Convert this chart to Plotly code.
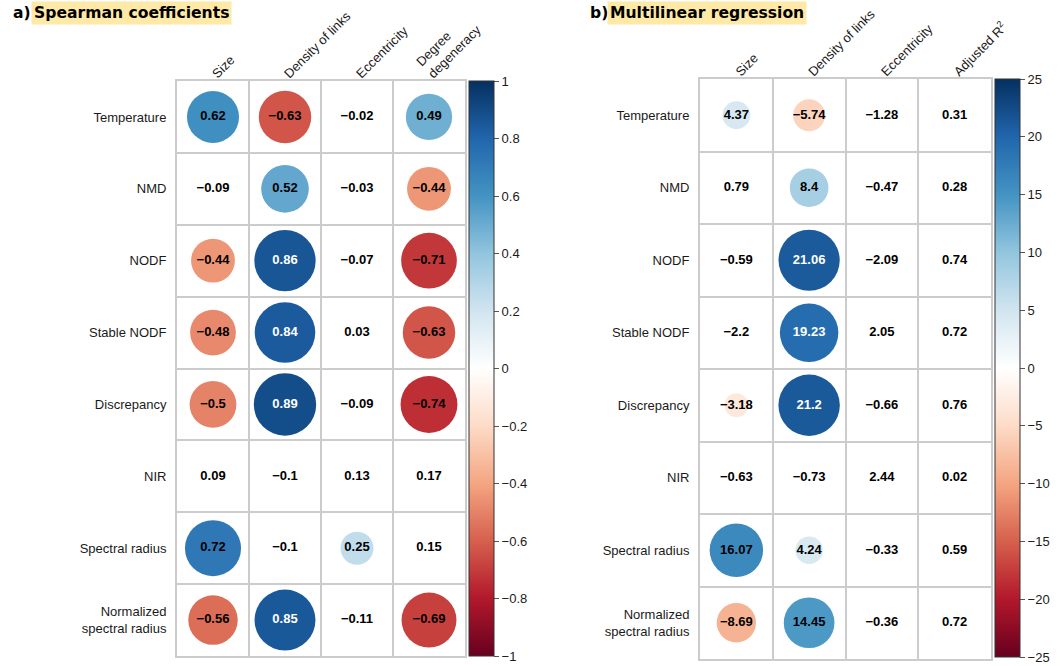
import math
import plotly.graph_objects as go

# ---------------- data ----------------
rows = ["Temperature", "NMD", "NODF", "Stable NODF", "Discrepancy", "NIR",
        "Spectral radius", "Normalized<br>spectral radius"]
cols_a = ["Size", "Density of links", "Eccentricity", "Degree<br>degeneracy"]
cols_b = ["Size", "Density of links", "Eccentricity", "Adjusted R<sup>2</sup>"]

spearman = [
    [0.62, -0.63, -0.02, 0.49],
    [-0.09, 0.52, -0.03, -0.44],
    [-0.44, 0.86, -0.07, -0.71],
    [-0.48, 0.84, 0.03, -0.63],
    [-0.5, 0.89, -0.09, -0.74],
    [0.09, -0.1, 0.13, 0.17],
    [0.72, -0.1, 0.25, 0.15],
    [-0.56, 0.85, -0.11, -0.69],
]
spearman_sig = [
    [1, 1, 0, 1],
    [0, 1, 0, 1],
    [1, 1, 0, 1],
    [1, 1, 0, 1],
    [1, 1, 0, 1],
    [0, 0, 0, 0],
    [1, 0, 1, 0],
    [1, 1, 0, 1],
]

regression = [
    [4.37, -5.74, -1.28, 0.31],
    [0.79, 8.4, -0.47, 0.28],
    [-0.59, 21.06, -2.09, 0.74],
    [-2.2, 19.23, 2.05, 0.72],
    [-3.18, 21.2, -0.66, 0.76],
    [-0.63, -0.73, 2.44, 0.02],
    [16.07, 4.24, -0.33, 0.59],
    [-8.69, 14.45, -0.36, 0.72],
]
regression_sig = [
    [1, 1, 0, 0],
    [0, 1, 0, 0],
    [0, 1, 0, 0],
    [0, 1, 0, 0],
    [1, 1, 0, 0],
    [0, 0, 0, 0],
    [1, 1, 0, 0],
    [1, 1, 0, 0],
]

ticks_a = [1, 0.8, 0.6, 0.4, 0.2, 0, -0.2, -0.4, -0.6, -0.8, -1]
ticks_b = [25, 20, 15, 10, 5, 0, -5, -10, -15, -20, -25]

# ---------------- style ----------------
W, H = 1064, 666
RDBU = ["#67001F", "#B2182B", "#D6604D", "#F4A582", "#FDDBC7", "#FFFFFF",
        "#D1E5F0", "#92C5DE", "#4393C3", "#2166AC", "#053061"]
colorscale = [[i / (len(RDBU) - 1), c] for i, c in enumerate(RDBU)]
GRID = "#cccccc"
LBL = dict(family="Liberation Sans, Arial, sans-serif", size=13, color="#1a1a1a")
TITLE_FONT = dict(family="DejaVu Sans", size=15.6, color="#000000", weight="bold")


def fmt(v):
    s = ("%g" % v)
    return s.replace("-", "\u2212")


def px(v):
    return v / W


def py(v):
    return 1 - v / H


panels = [
    dict(vals=spearman, sig=spearman_sig, cols=cols_a, vmax=1.0, ticks=ticks_a,
         box=(177, 465, 81, 656), cb_x=469, cb_y=(81, 656),
         xa="x", ya="y", ca="coloraxis"),
    dict(vals=regression, sig=regression_sig, cols=cols_b, vmax=25.0, ticks=ticks_b,
         box=(700, 991, 79, 659), cb_x=995, cb_y=(79, 657),
         xa="x2", ya="y2", ca="coloraxis2"),
]

fig = go.Figure()
layout = dict(width=W, height=H,
              margin=dict(l=0, r=0, t=0, b=0, pad=0, autoexpand=False),
              plot_bgcolor="white", paper_bgcolor="white", showlegend=False,
              template="none")

nrow = len(rows)
for k, p in enumerate(panels):
    x0, x1, y0, y1 = p["box"]
    ncol = len(p["cols"])
    cw = (x1 - x0) / ncol
    ch = (y1 - y0) / nrow
    cell = min(cw, ch)
    cx, cy, cs, cv = [], [], [], []
    tx, ty, tt, tc = [], [], [], []
    for i, r in enumerate(p["vals"]):
        yc = nrow - i - 0.5
        for j, v in enumerate(r):
            xc = j + 0.5
            if p["sig"][i][j]:
                cx.append(xc)
                cy.append(yc)
                cs.append(0.92 * cell * math.sqrt(abs(v) / p["vmax"]))
                cv.append(v)
            tx.append(xc)
            ty.append(yc)
            tt.append(fmt(v))
            white = p["sig"][i][j] and abs(v) / p["vmax"] > 0.75
            tc.append("#ffffff" if white else "#000000")
    fig.add_trace(go.Scatter(
        x=cx, y=cy, mode="markers", xaxis=p["xa"], yaxis=p["ya"], hoverinfo="skip",
        marker=dict(size=cs, color=cv, coloraxis=p["ca"], line=dict(width=0), opacity=1)))
    fig.add_trace(go.Scatter(
        x=tx, y=ty, mode="text", text=tt, xaxis=p["xa"], yaxis=p["ya"], hoverinfo="skip",
        textfont=dict(family="Liberation Sans, Arial, sans-serif", size=13, color=tc,
                      weight="bold")))

    suffix = "" if k == 0 else "2"
    layout["xaxis" + suffix] = dict(
        domain=[px(x0), px(x1)], range=[0, ncol], side="top", anchor="y" + suffix,
        tickmode="array", tickvals=[j + 0.5 for j in range(ncol)], ticktext=p["cols"],
        tickangle=-45, tickfont=LBL, showgrid=False, zeroline=False, ticks="",
        showline=True, mirror=True, linecolor=GRID, linewidth=2, fixedrange=True,
        automargin=False,
        minor=dict(tickmode="array", tickvals=list(range(1, ncol)), showgrid=True,
                   gridcolor=GRID, gridwidth=2, ticks=""),
        ticklabelstandoff=-7)
    layout["yaxis" + suffix] = dict(
        domain=[py(y1), py(y0)], range=[0, nrow], anchor="x" + suffix,
        tickmode="array", tickvals=[nrow - i - 0.5 for i in range(nrow)], ticktext=rows,
        tickfont=LBL, showgrid=False, zeroline=False, ticks="",
        showline=True, mirror=True, linecolor=GRID, linewidth=2, fixedrange=True,
        automargin=False,
        minor=dict(tickmode="array", tickvals=list(range(1, nrow)), showgrid=True,
                   gridcolor=GRID, gridwidth=2, ticks=""),
        ticklabelstandoff=6)
    cy0, cy1 = p["cb_y"]
    layout[p["ca"]] = dict(
        colorscale=colorscale, cmin=-p["vmax"], cmax=p["vmax"],
        colorbar=dict(
            x=px(p["cb_x"]), xanchor="left", xref="paper", xpad=0, ypad=0,
            y=py((cy0 + cy1) / 2), yanchor="middle", yref="paper",
            lenmode="pixels", len=cy1 - cy0, thickness=25, thicknessmode="pixels",
            outlinewidth=1, outlinecolor="#333333",
            tickmode="array", tickvals=p["ticks"], ticktext=[fmt(t) for t in p["ticks"]],
            ticks="outside", ticklen=5, tickcolor="#555555", tickwidth=1,
            ticklabeloverflow="allow",
            tickfont=dict(family="Liberation Sans, Arial, sans-serif", size=13,
                          color="#1a1a1a")))

annotations = [
    dict(text="a)", x=px(11), y=py(13), xanchor="left", yanchor="middle",
         font=TITLE_FONT, showarrow=False, xref="paper", yref="paper"),
    dict(text="Spearman coefficients", x=px(31), y=py(13), xanchor="left",
         yanchor="middle", font=TITLE_FONT, showarrow=False, xref="paper", yref="paper",
         bgcolor="#FFE9A6", borderpad=2),
    dict(text="b)", x=px(588), y=py(13), xanchor="left", yanchor="middle",
         font=TITLE_FONT, showarrow=False, xref="paper", yref="paper"),
    dict(text="Multilinear regression", x=px(607), y=py(13), xanchor="left",
         yanchor="middle", font=TITLE_FONT, showarrow=False, xref="paper", yref="paper",
         bgcolor="#FFE9A6", borderpad=2),
]
layout["annotations"] = annotations
fig.update_layout(**layout)
fig.write_html("out.html", config={"displayModeBar": False},
               post_script="document.body.style.margin='0px';document.body.style.overflow='hidden';")
